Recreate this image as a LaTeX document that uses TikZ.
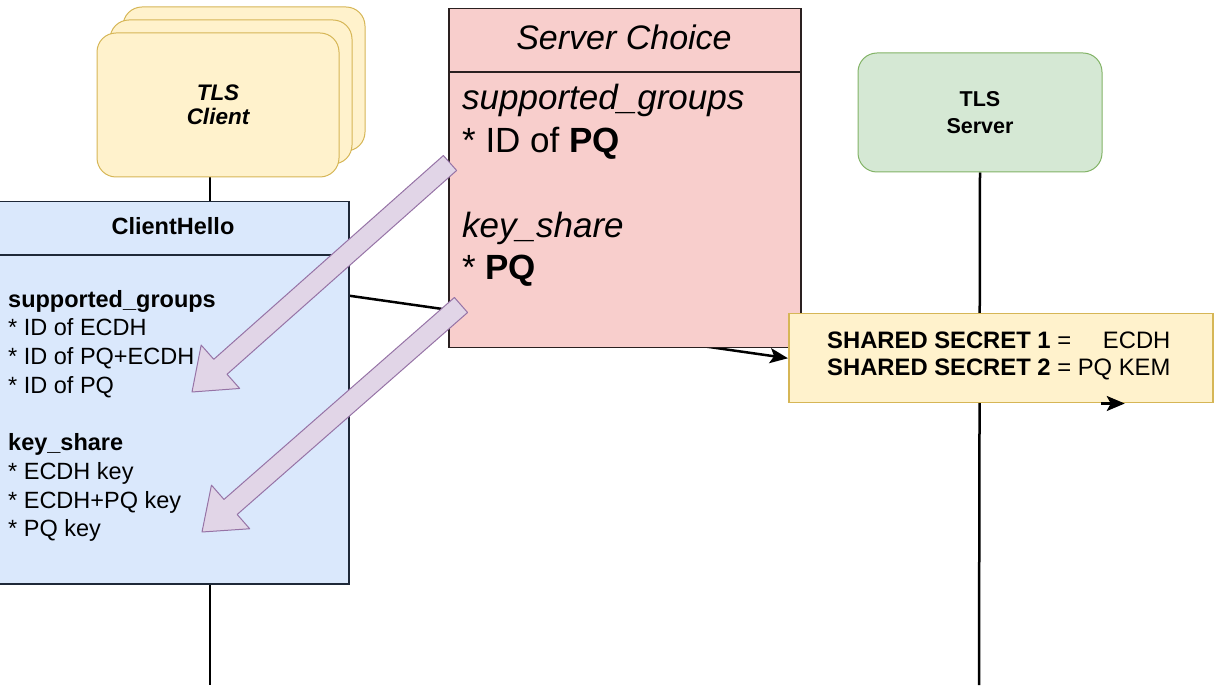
\documentclass[tikz,border=0pt]{standalone}
\usepackage{fontspec}
\setmainfont{Liberation Sans}
\usetikzlibrary{arrows.meta}
\usetikzlibrary{calc}
\usetikzlibrary{shadows}
\usetikzlibrary{backgrounds}

\definecolor{clientfill}{HTML}{FFF2CC}
\definecolor{clientline}{HTML}{D6B656}
\definecolor{serverfill}{HTML}{D5E8D4}
\definecolor{serverline}{HTML}{82B366}
\definecolor{hellofill}{HTML}{DAE8FC}
\definecolor{helloline}{HTML}{1E2838}
\definecolor{choicefill}{HTML}{F8CECC}
\definecolor{choiceline}{HTML}{2A2020}
\definecolor{pickfill}{HTML}{E1D5E7}
\definecolor{pickline}{HTML}{9673A6}

\tikzset{
  actor/.style={rounded corners=19pt, line width=1pt, align=center},
  cardstack/.style={
    copy shadow={shadow xshift=26pt, shadow yshift=26pt, fill=clientfill, draw=clientline, line width=1pt},
    copy shadow={shadow xshift=13pt, shadow yshift=13pt, fill=clientfill, draw=clientline, line width=1pt}},
  msgbox/.style={line width=1.5pt, inner sep=0pt, anchor=north west},
  lifeline/.style={line width=2.5pt},
  msg/.style={line width=2.5pt, -{Stealth[length=18pt, width=15pt, inset=4pt]}},
  pick/.style={fill=pickfill, draw=pickline, line width=1pt, line join=round},
}

\begin{document}
\begin{tikzpicture}[x=1pt, y=-1pt]
  \useasboundingbox (0,0) rectangle (1216,692);

  \node[actor, cardstack, fill=clientfill, draw=clientline,
        minimum width=242pt, minimum height=144pt,
        font=\fontsize{22.5}{24}\selectfont\bfseries\itshape]
    (client) at (218,105) {TLS\\Client};
  \node[actor, fill=serverfill, draw=serverline,
        minimum width=244pt, minimum height=119pt,
        font=\fontsize{21.5}{27}\selectfont\bfseries]
    (server) at (980,112.5) {TLS\\Server};

  \coordinate (clientend) at (210,685);
  \coordinate (serverend) at (979,685);

  % ClientHello message
  \node[msgbox, fill=hellofill, draw=helloline,
        minimum width=350pt, minimum height=382pt] (ch) at (-2,201) {};
  \draw[helloline, line width=1.5pt]
    ([yshift=-54pt]ch.north west) -- ([yshift=-54pt]ch.north east);
  \node[font=\fontsize{23.5}{28}\selectfont\bfseries] (chtitle) at (173,226) {ClientHello};
  \node[anchor=north west, inner sep=0pt, align=left,
        font=\fontsize{23.5}{28.7}\selectfont] (chbody) at (8,290) {%
    \textbf{supported\_groups}\\
    * ID of ECDH\\
    * ID of PQ+ECDH\\
    * ID of PQ\\
    ~\\
    \textbf{key\_share}\\
    * ECDH key\\
    * ECDH+PQ key\\
    * PQ key};

  % what the server picks
  \node[msgbox, fill=choicefill, draw=choiceline,
        minimum width=352pt, minimum height=339pt] (sc) at (448,8) {};
  \draw[choiceline, line width=1.5pt]
    ([yshift=-64pt]sc.north west) -- ([yshift=-64pt]sc.north east);
  \node[font=\fontsize{34}{40}\selectfont\itshape] (sctitle) at (624,37) {Server Choice};
  \node[anchor=north west, inner sep=0pt, align=left,
        font=\fontsize{35}{42.5}\selectfont] (scbody) at (462,84) {%
    \textit{supported\_groups}\\
    * ID of \textbf{PQ}\\
    ~\\
    \textit{key\_share}\\
    * \textbf{PQ}};

  \node[msgbox, fill=clientfill, draw=clientline,
        minimum width=424pt, minimum height=89pt] (ss) at (788,313) {};
  \node[anchor=west, inner sep=0pt, font=\fontsize{23.8}{27}\selectfont]
    (sstext) at (827,357) {%
    \begin{tabular}{@{}l@{ }r@{}}
      \textbf{SHARED SECRET 1} = & ECDH\\
      \textbf{SHARED SECRET 2} = & PQ KEM
    \end{tabular}};

  \begin{scope}[on background layer]
    \draw[lifeline] ([xshift=-8pt]client.south) -- (clientend);
    \draw[lifeline] (server.south) -- (serverend);
    \draw[msg] ([yshift=97pt]ch.east) -- (ss.west);
  \end{scope}
  \draw[msg] ([xshift=100pt]ss.south) -- ([xshift=124pt]ss.south);

  % block arrows from the chosen entries back to the offer
  \coordinate (sgt) at (450,163);
  \coordinate (sgh) at (192,392);
  \coordinate (kst) at (461,305);
  \coordinate (ksh) at (202,532);
  \foreach \tail/\head in {sgt/sgh, kst/ksh} {
    \coordinate (neck) at ($(\head)!38pt!(\tail)$);
    \draw[pick] ($(\tail)!10pt!90:(\head)$)
      -- ($(neck)!10pt!90:(\head)$) -- ($(neck)!29pt!90:(\head)$)
      -- (\head)
      -- ($(neck)!29pt!-90:(\head)$) -- ($(neck)!10pt!-90:(\head)$)
      -- ($(\tail)!10pt!-90:(\head)$) -- cycle;
  }
\end{tikzpicture}
\end{document}
